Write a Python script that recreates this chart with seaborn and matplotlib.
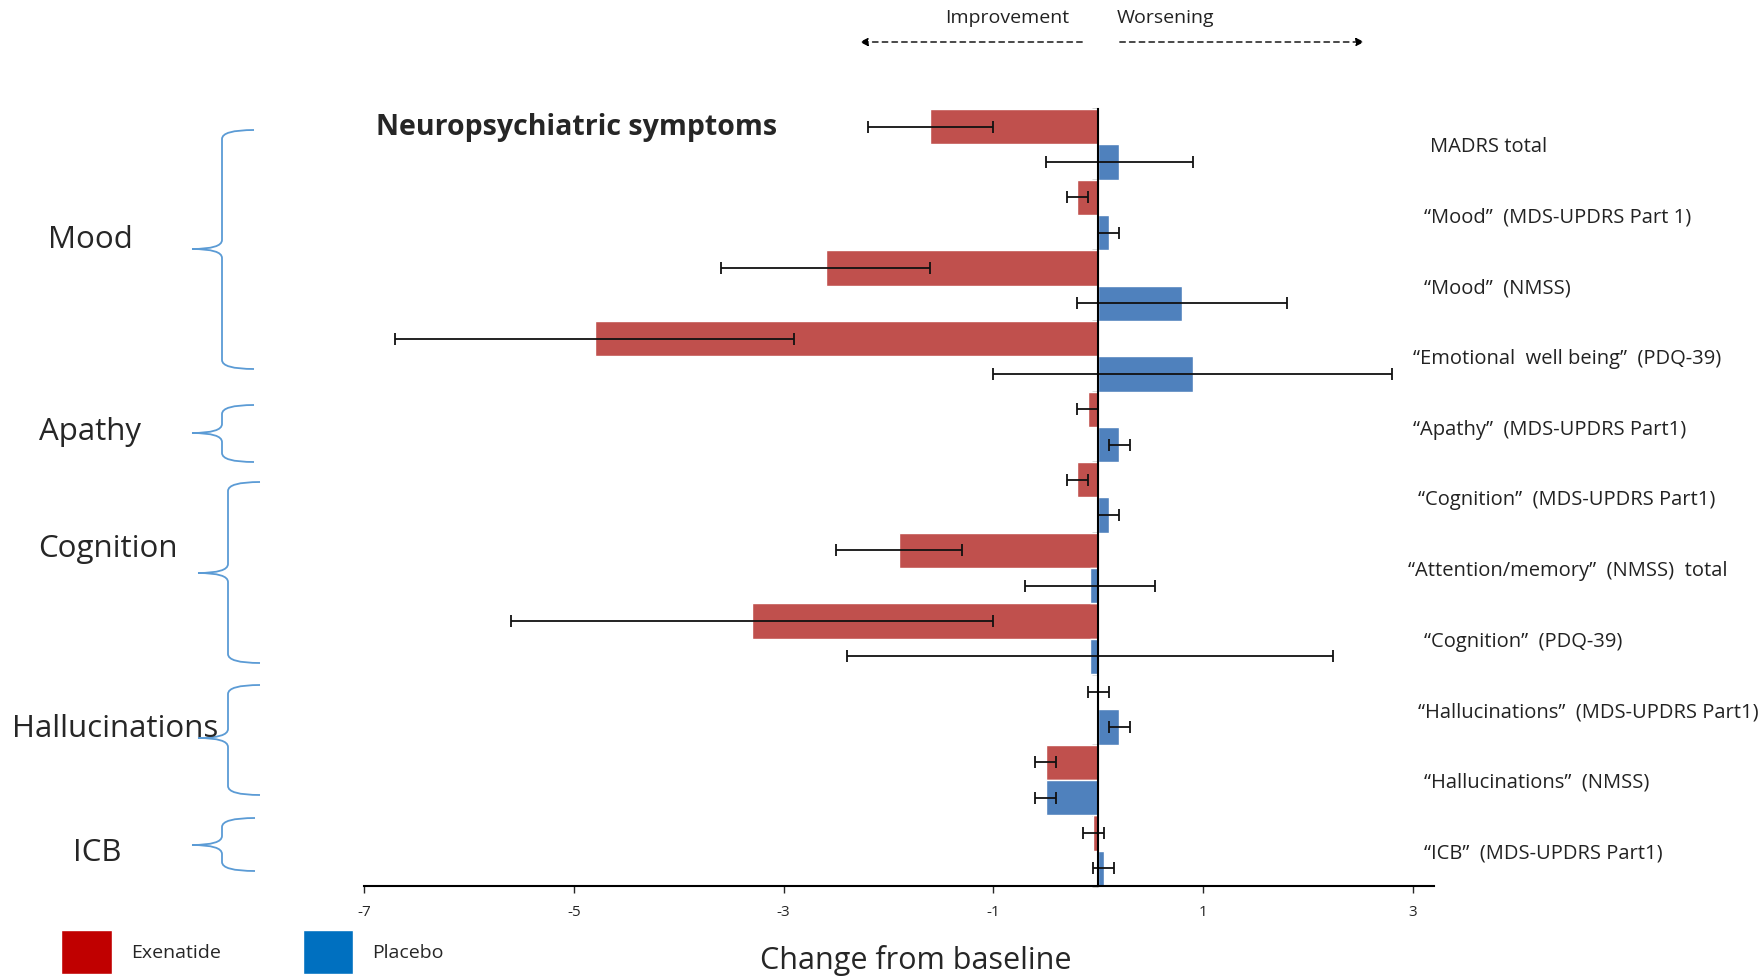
import numpy as np
import pandas as pd
import seaborn as sns
import matplotlib.pyplot as plt
from matplotlib.patches import Patch, PathPatch
from matplotlib.path import Path
from matplotlib import transforms

# values (change from baseline)
measures = ['MADRS total',
            '“Mood”  (MDS-UPDRS Part 1)',
            '“Mood”  (NMSS)',
            '“Emotional  well being”  (PDQ-39)',
            '“Apathy”  (MDS-UPDRS Part1)',
            '“Cognition”  (MDS-UPDRS Part1)',
            '“Attention/memory”  (NMSS)  total',
            '“Cognition”  (PDQ-39)',
            '“Hallucinations”  (MDS-UPDRS Part1)',
            '“Hallucinations”  (NMSS)',
            '“ICB”  (MDS-UPDRS Part1)']
exenatide = [-1.6, -0.2, -2.6, -4.8, -0.1, -0.2, -1.9, -3.3, 0.0, -0.5, -0.05]
exenatide_err = [0.6, 0.1, 1.0, 1.9, 0.1, 0.1, 0.6, 2.3, 0.1, 0.1, 0.1]
placebo = [0.2, 0.1, 0.8, 0.9, 0.2, 0.1, -0.08, -0.08, 0.2, -0.5, 0.05]
placebo_err = [0.7, 0.1, 1.0, 1.9, 0.1, 0.1, 0.62, 2.32, 0.1, 0.1, 0.1]
groups = ['Mood', 'Apathy', 'Cognition', 'Hallucinations', 'ICB']
arms = ['Exenatide', 'Placebo']

RED = '#C0504D'
BLUE = '#4F81BD'
BRACE = '#5B9BD5'
W, H = 1763, 977

sns.set_style('white')
plt.rcParams['font.family'] = ['Open Sans', 'DejaVu Sans']
plt.rcParams['axes.unicode_minus'] = False

df = pd.DataFrame({
    'measure': measures * 2,
    'change': exenatide + placebo,
    'err': exenatide_err + placebo_err,
    'group': [arms[0]] * len(measures) + [arms[1]] * len(measures),
})

fig = plt.figure(figsize=(W / 100, H / 100), dpi=100)
ax = fig.add_axes([364 / W, 1 - 886 / H, (1434 - 364) / W, (886 - 109) / H])

sns.barplot(data=df, x='change', y='measure', hue='group', order=measures,
            hue_order=arms, palette=[RED, BLUE], orient='h', width=1.0,
            errorbar=None, saturation=1, legend=False, ax=ax)

# error bars at the centre of each bar
for cont, errs in zip(ax.containers, [exenatide_err, placebo_err]):
    xs = [b.get_x() + b.get_width() if b.get_width() != 0 else b.get_x() for b in cont]
    ys = [b.get_y() + b.get_height() / 2 for b in cont]
    ax.errorbar(xs, ys, xerr=errs, fmt='none', ecolor='#111111',
                elinewidth=1.3, capsize=4, capthick=1.3, zorder=5)

ax.set_xlim(-7, 3.2)
ax.set_ylim(len(measures) - 0.5, -0.5)
ax.set_xticks([-7, -5, -3, -1, 1, 3])
ax.set_yticks(np.arange(-0.5, len(measures), 1))
ax.set_yticklabels([])
ax.set_ylabel('')
ax.spines['left'].set_position(('data', 0))
ax.spines['left'].set_zorder(6)
for s in ['top', 'right']:
    ax.spines[s].set_visible(False)
for s in ['left', 'bottom']:
    ax.spines[s].set_color('black')
    ax.spines[s].set_linewidth(1.5)
ax.tick_params(axis='x', direction='out', length=5, width=1, labelsize=11, pad=9, bottom=True)
ax.tick_params(axis='y', direction='out', length=4, width=1, left=True)

ax.set_xlabel('Change from baseline', fontsize=22)
ax.xaxis.set_label_coords((916 - 364) / 1070, -(961 - 886) / 777)
ax.xaxis.label.set_va('center')

# measure labels on the right
label_x = [1430, 1424, 1424, 1413, 1413, 1418, 1408, 1424, 1418, 1424, 1424]
tr = transforms.blended_transform_factory(fig.transFigure, ax.transData)
for i, (m, lx) in enumerate(zip(measures, label_x)):
    ax.text(lx / W, i + 0.04, m, transform=tr, ha='left', va='center', fontsize=14.5,
            color='#222222', clip_on=False)

fig.text(376 / W, 1 - 128 / H, 'Neuropsychiatric symptoms', fontsize=20.5,
         fontweight='bold', ha='left', va='center')

# improvement / worsening arrows
for x0, x1 in [(1085, 857), (1117, 1367)]:
    ax.annotate('', xy=(x1 / W, 1 - 42 / H), xytext=(x0 / W, 1 - 42 / H),
                xycoords='figure fraction', textcoords='figure fraction',
                arrowprops=dict(arrowstyle='-|>', ls=(0, (4, 3)), lw=1,
                                color='black', mutation_scale=12))
fig.text(1007 / W, 1 - 18 / H, 'Improvement', fontsize=14, ha='center', va='center', color='#222222')
fig.text(1165 / W, 1 - 18 / H, 'Worsening', fontsize=14, ha='center', va='center', color='#222222')

# group braces and labels
braces = [(130, 369, 192, 249, 222, 254),
          (405, 462, 192, 433, 222, 254),
          (482, 663, 198, 573, 228, 260),
          (685, 795, 198, 738, 228, 260),
          (818, 871, 192, 845, 222, 255)]
group_pos = [(90, 240), (90, 432), (108, 549), (115, 729), (97, 853)]


def brace_path(top, bot, tx, ty, vx, ex, r=9):
    pts = [(ex, top), (vx, top), (vx, top + r),
           (vx, ty - r), (vx, ty), (tx, ty),
           (vx, ty), (vx, ty + r),
           (vx, bot - r), (vx, bot), (ex, bot)]
    codes = [Path.MOVETO, Path.CURVE3, Path.CURVE3,
             Path.LINETO, Path.CURVE3, Path.CURVE3,
             Path.CURVE3, Path.CURVE3,
             Path.LINETO, Path.CURVE3, Path.CURVE3]
    return Path([(x / W, 1 - y / H) for x, y in pts], codes)


for b in braces:
    fig.add_artist(PathPatch(brace_path(*b), fill=False, edgecolor=BRACE,
                             lw=1.3, transform=fig.transFigure))
for g, (gx, gy) in zip(groups, group_pos):
    fig.text(gx / W, 1 - gy / H, g, fontsize=22.5, ha='center', va='center')

fig.legend(handles=[Patch(facecolor='#C00000', label='Exenatide'),
                    Patch(facecolor='#0070C0', label='Placebo')],
           loc='lower left', bbox_to_anchor=(61 / W, 0.003), ncol=2,
           frameon=False, fontsize=14, handlelength=2.6, handleheight=3.1,
           handletextpad=1.0, columnspacing=4.2, borderpad=0, borderaxespad=0)

plt.savefig('out.png', dpi=100)
